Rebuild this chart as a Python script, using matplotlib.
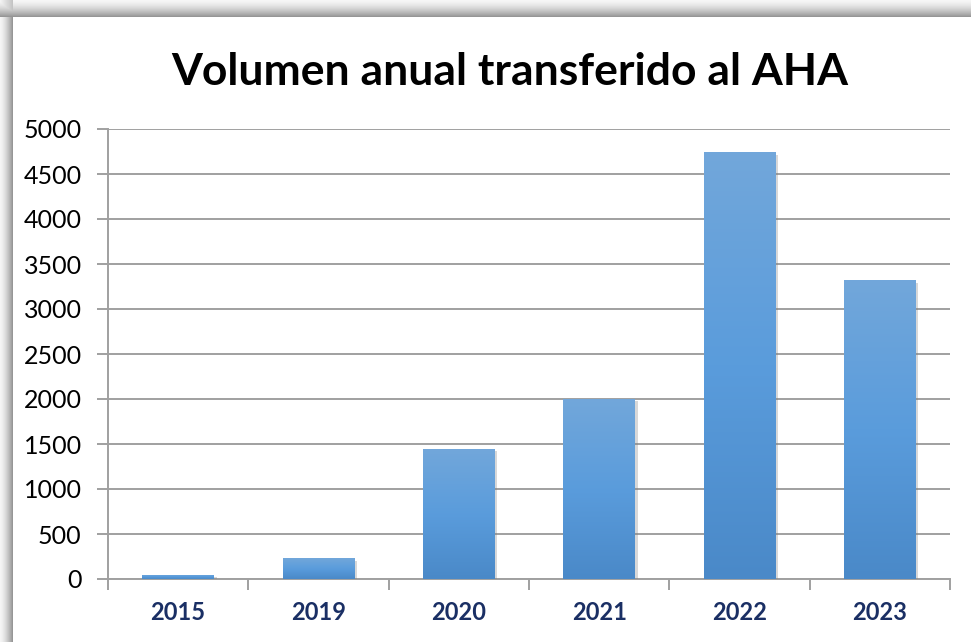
import numpy as np
import matplotlib
matplotlib.use('Agg')
import matplotlib.pyplot as plt
import matplotlib.patheffects as pe

# Data
years = ['2015', '2019', '2020', '2021', '2022', '2023']
volumen = [50, 230, 1450, 2005, 4745, 3325]
y_ticks = list(range(0, 5001, 500))

W, H = 971, 642
plt.rcParams['font.family'] = ['Lato', 'DejaVu Sans']

fig = plt.figure(figsize=(W / 100, H / 100), dpi=100)

# Shadowed frame along top and left edges
bg = np.ones((H, W, 3))
fx, fy = 13, 17
for y in range(fy):
    t = (y + 1) / fy
    bg[y, :, :] = 0.97 - 0.38 * t ** 1.6
for x in range(fx):
    t = (x + 1) / fx
    col = 0.97 - 0.38 * t ** 1.6
    bg[fy:, x, :] = col
    bg[:fy, x, :] = np.minimum(bg[:fy, x, :], 0.97 - 0.2 * t)
bg[fy:, fx:, :] = 1.0
fig.figimage(bg, xo=0, yo=0, origin='upper', zorder=-5)

ax = fig.add_axes([108 / W, 1 - 579 / H, (950 - 108) / W, (579 - 129) / H])
ax.patch.set_alpha(0)
ax.set_zorder(2)

x = np.arange(len(years))
bars = ax.bar(x, volumen, width=0.51, color='#5B9BD5', zorder=3,
              path_effects=[pe.SimplePatchShadow(offset=(2, -2), shadow_rgbFace='#808080', alpha=0.3),
                            pe.Normal()])

# vertical gradient on each bar (light at top, darker at bottom)
grad = np.linspace(0, 1, 256).reshape(-1, 1)
cmap = matplotlib.colors.LinearSegmentedColormap.from_list(
    'barg', ['#72A7DA', '#5A9CDC', '#4A89C8'])
for b in bars:
    x0, w, h = b.get_x(), b.get_width(), b.get_height()
    im = ax.imshow(grad, cmap=cmap, aspect='auto', extent=(x0, x0 + w, 0, h),
                   origin='upper', zorder=4, interpolation='bilinear')
    im.set_clip_path(b)

ax.set_xlim(-0.5, len(years) - 0.5)
ax.set_ylim(0, 5000)
ax.set_yticks(y_ticks)
ax.set_yticklabels([str(v) for v in y_ticks], fontsize=18, color='#000000')
ax.yaxis.grid(True, color='#A0A0A0', linewidth=1.4, zorder=1)
ax.set_axisbelow(True)

ax.set_xticks(x)
ax.set_xticklabels(years, fontsize=17, fontweight='bold', color='#1A2F64')
ax.set_xticks(np.arange(len(years) + 1) - 0.5, minor=True)
ax.tick_params(axis='x', which='major', length=0, pad=16)
ax.tick_params(axis='x', which='minor', length=8, color='#A0A0A0', width=1.4)
ax.tick_params(axis='y', length=8, color='#A0A0A0', width=1.4, pad=11)

for s in ['top', 'right']:
    ax.spines[s].set_visible(False)
for s in ['left', 'bottom']:
    ax.spines[s].set_color('#A0A0A0')
    ax.spines[s].set_linewidth(1.4)

fig.text(510 / W, 1 - 72 / H, 'Volumen anual transferido al AHA', ha='center', va='center',
         fontsize=32, fontweight='bold', color='#000000')

fig.savefig('out.png', dpi=100)
